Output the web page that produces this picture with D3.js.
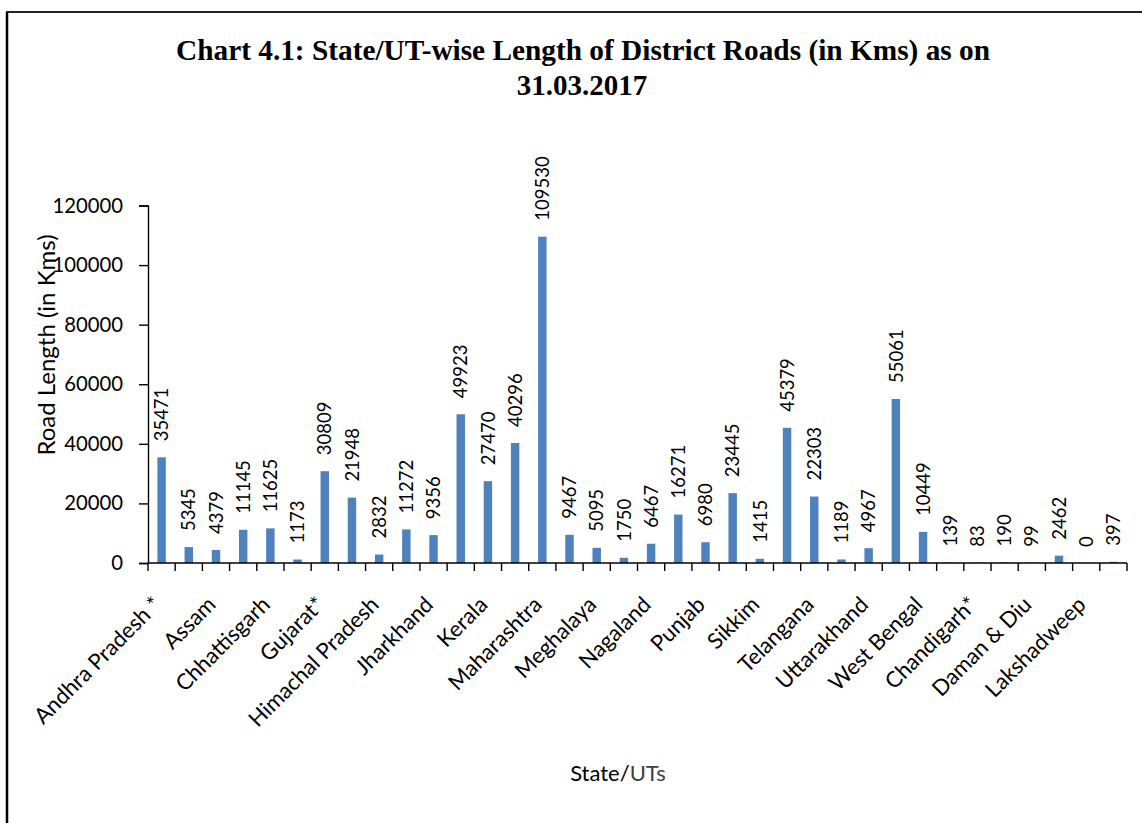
<!DOCTYPE html>
<html>
<head>
<meta charset="utf-8">
<script src="https://cdn.jsdelivr.net/npm/d3@7"></script>
<style>
  body { margin: 0; background: #fff; }
  svg { display: block; }
</style>
</head>
<body>
<svg id="chart"></svg>
<script>
// states / UTs, in the order of the chart (only every other name is printed on the axis)
var states = ["Andhra Pradesh *", "Arunachal Pradesh", "Assam", "Bihar", "Chhattisgarh", "Goa",
  "Gujarat*", "Haryana", "Himachal Pradesh", "Jammu & Kashmir", "Jharkhand", "Karnataka",
  "Kerala", "Madhya Pradesh", "Maharashtra", "Manipur", "Meghalaya", "Mizoram",
  "Nagaland", "Odisha", "Punjab", "Rajasthan", "Sikkim", "Tamil Nadu",
  "Telangana", "Tripura", "Uttarakhand", "Uttar Pradesh", "West Bengal", "A & N Islands",
  "Chandigarh*", "D & N Haveli", "Daman & Diu", "Delhi", "Lakshadweep", "Puducherry"];

var roadLength = [35471, 5345, 4379, 11145, 11625, 1173,
  30809, 21948, 2832, 11272, 9356, 49923,
  27470, 40296, 109530, 9467, 5095, 1750,
  6467, 16271, 6980, 23445, 1415, 45379,
  22303, 1189, 4967, 55061, 10449, 139,
  83, 190, 99, 2462, 0, 397];

var yTicks = [0, 20000, 40000, 60000, 80000, 100000, 120000];

var width = 1142, height = 823;
var plotLeft = 148, plotRight = 1127, plotTop = 205.5, plotBottom = 563;

var svg = d3.select("#chart")
  .attr("width", width)
  .attr("height", height)

// frame (left and top edges only, as in the page scan)
svg.append("line").attr("x1", 7).attr("x2", 7).attr("y1", 12).attr("y2", height)
  .attr("stroke", "#000").attr("stroke-width", 2.5)
svg.append("line").attr("x1", 6).attr("x2", width).attr("y1", 12).attr("y2", 12)
  .attr("stroke", "#222").attr("stroke-width", 1.8)

// title
var title = svg.append("g")
  .attr("font-family", "'Liberation Serif', 'Times New Roman', serif")
  .attr("font-weight", "bold")
  .attr("font-size", 29)
  .attr("text-anchor", "middle")
title.append("text").attr("x", 583).attr("y", 60)
  .attr("textLength", 814).attr("lengthAdjust", "spacingAndGlyphs")
  .text("Chart 4.1: State/UT-wise Length of District Roads (in Kms) as on")
title.append("text").attr("x", 582).attr("y", 95)
  .text("31.03.2017")

var x = d3.scaleBand().domain(states).range([plotLeft, plotRight]).paddingInner(0.69).paddingOuter(0.345)
var xCell = d3.scaleBand().domain(states).range([plotLeft, plotRight]).padding(0)
var y = d3.scaleLinear().domain([0, 120000]).range([plotBottom, plotTop])

// bars
svg.append("g").selectAll("rect")
  .data(roadLength)
  .enter()
  .append("rect")
  .attr("x", function(d, i) { return x(states[i]) })
  .attr("width", x.bandwidth())
  .attr("y", function(d) { return y(d) })
  .attr("height", function(d) { return y(0) - y(d) })
  .style("fill", "#4f81bd")

// value labels, rotated
svg.append("g").selectAll("text")
  .data(roadLength)
  .enter()
  .append("text")
  .attr("transform", function(d, i) {
    return "translate(" + (x(states[i]) + x.bandwidth() / 2) + "," + (y(d) - 16) + ") rotate(-90)"
  })
  .attr("dy", "0.36em")
  .attr("font-family", "Lato, 'Open Sans', sans-serif")
  .attr("font-size", 18.5)
  .attr("fill", "#000")
  .text(function(d) { return d })

// y axis
var yAxis = d3.axisLeft(y).tickValues(yTicks).tickSize(9).tickPadding(16).tickFormat(d3.format("d"))
var gy = svg.append("g").attr("transform", "translate(" + plotLeft + ",0)").call(yAxis)
gy.select(".domain").attr("stroke", "#000").attr("stroke-width", 1.4)
gy.selectAll(".tick line").attr("stroke", "#000").attr("stroke-width", 1.4)
gy.selectAll(".tick text").attr("font-family", "Lato, 'Open Sans', sans-serif")
  .attr("font-size", 20.3).attr("fill", "#000")

// x axis: line plus ticks on the cell edges
var gx = svg.append("g")
gx.append("line").attr("x1", plotLeft).attr("x2", plotRight).attr("y1", plotBottom).attr("y2", plotBottom)
  .attr("stroke", "#000").attr("stroke-width", 1.6)
var edges = states.map(function(s) { return xCell(s) }).concat([plotRight])
gx.selectAll(".edge")
  .data(edges)
  .enter()
  .append("line")
  .attr("class", "edge")
  .attr("x1", function(d) { return d }).attr("x2", function(d) { return d })
  .attr("y1", plotBottom).attr("y2", plotBottom + 8)
  .attr("stroke", "#000").attr("stroke-width", 1.4)

gx.selectAll(".cat")
  .data(states.filter(function(s, i) { return i % 2 == 0 }))
  .enter()
  .append("text")
  .attr("class", "cat")
  .attr("transform", function(d) {
    return "translate(" + (xCell(d) + xCell.bandwidth() / 2 + 1) + "," + (plotBottom + 43) + ") rotate(-45)"
  })
  .attr("text-anchor", "end")
  .attr("font-family", "Lato, 'Open Sans', sans-serif")
  .attr("font-size", 22)
  .attr("fill", "#000")
  .text(function(d) { return d })

// axis titles
svg.append("text")
  .attr("transform", "translate(55,345) rotate(-90)")
  .attr("text-anchor", "middle")
  .attr("font-family", "Lato, 'Open Sans', sans-serif")
  .attr("font-size", 24)
  .attr("fill", "#000")
  .text("Road Length (in Kms)")

var xt = svg.append("text")
  .attr("x", 618).attr("y", 781)
  .attr("text-anchor", "middle")
  .attr("font-family", "Lato, 'Open Sans', sans-serif")
  .attr("font-size", 22)
xt.append("tspan").attr("fill", "#000").text("State/")
xt.append("tspan").attr("fill", "#404040").text("UTs")
</script>
</body>
</html>
